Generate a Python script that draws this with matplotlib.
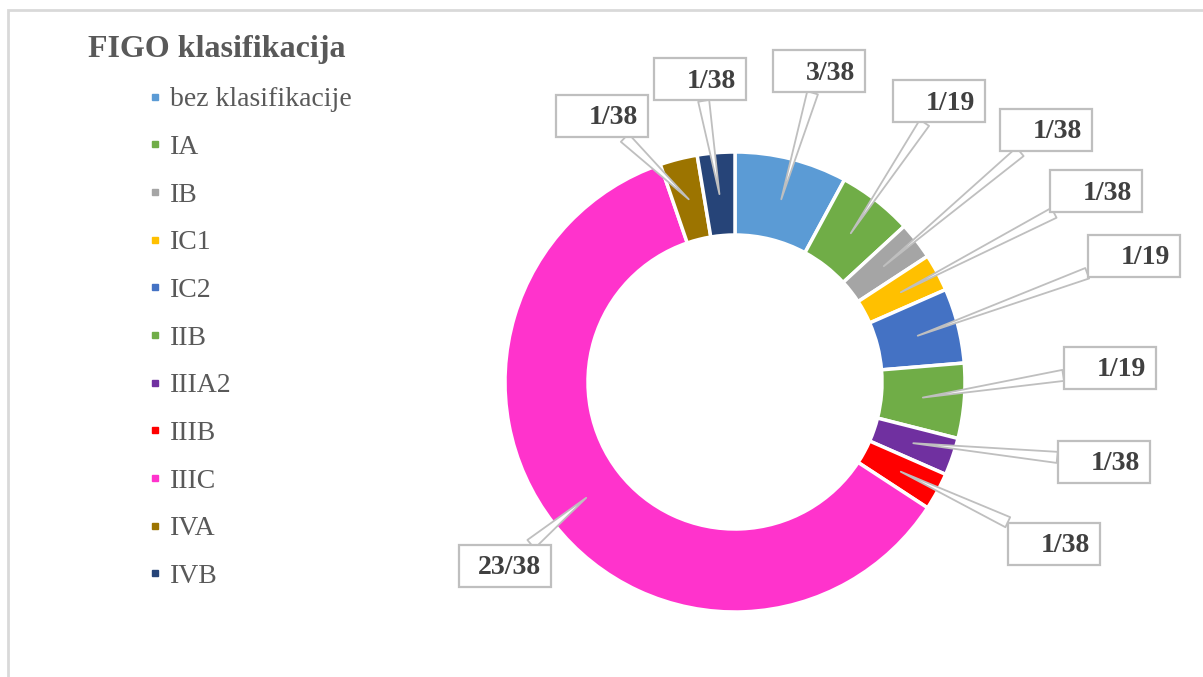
import matplotlib.pyplot as plt
from matplotlib.patches import Rectangle
from matplotlib.lines import Line2D
from fractions import Fraction
import numpy as np

# data
categories = ['bez klasifikacije', 'IA', 'IB', 'IC1', 'IC2', 'IIB',
              'IIIA2', 'IIIB', 'IIIC', 'IVA', 'IVB']
counts = [3, 2, 1, 1, 2, 2, 1, 1, 23, 1, 1]
total = sum(counts)
colors = ['#5B9BD5', '#70AD47', '#A5A5A5', '#FFC000', '#4472C4', '#70AD47',
          '#7030A0', '#FF0000', '#FF33CC', '#9C7400', '#264478']

# layout (pixel coords, origin top-left): label box centres
box_x = [819, 939, 1046, 1096, 1134, 1110, 1104, 1054, 505, 602, 700]
box_y = [71, 101, 130, 191, 256, 368, 462, 544, 566, 116, 79]

W, H = 1203, 677
plt.rcParams['font.family'] = ['Liberation Serif', 'DejaVu Serif']

fig = plt.figure(figsize=(W / 100, H / 100), dpi=100)
ax = fig.add_axes([0, 0, 1, 1])


def py(y):
    return H - y


cx, cy = 735, py(382)
R, ring = 230, 83

wedges, _ = ax.pie(counts, colors=colors, startangle=90, counterclock=False,
                   radius=R, center=(cx, cy),
                   wedgeprops=dict(width=ring, edgecolor='white', linewidth=2.5))
ax.set_xlim(0, W)
ax.set_ylim(0, H)
ax.axis('off')

# callout labels
rm = R - ring / 2
bw, bh = 92, 42
for w, c, bx, by in zip(wedges, counts, box_x, box_y):
    mid = np.deg2rad((w.theta1 + w.theta2) / 2)
    target = (cx + rm * np.cos(mid), cy + rm * np.sin(mid))
    rect = Rectangle((bx - bw / 2, py(by) - bh / 2), bw, bh, fc='white',
                     ec='#BFBFBF', lw=1.6, zorder=4)
    ax.add_patch(rect)
    ax.annotate('', xy=target, xytext=(bx, py(by)), zorder=3,
                arrowprops=dict(arrowstyle='wedge,tail_width=0.4,shrink_factor=0.5',
                                mutation_scale=20, fc='white', ec='#BFBFBF', lw=1.3,
                                patchA=rect, shrinkA=0, shrinkB=0))
    frac = Fraction(c, total)
    ax.text(bx + bw / 2 - 10, py(by + 2), f'{frac.numerator}/{frac.denominator}',
            ha='right', va='center', fontsize=20, fontweight='bold',
            color='#404040', zorder=5)

# legend
handles = [Line2D([], [], marker='s', ls='', color=c, markersize=5) for c in colors]
ax.legend(handles, categories, loc='upper left', bbox_to_anchor=(148, py(87)),
          bbox_transform=ax.transData, frameon=False, borderpad=0, borderaxespad=0,
          handlelength=0.5, handletextpad=0.3, labelspacing=0.8,
          prop={'size': 20}, labelcolor='#595959')
ax.text(88, py(50), 'FIGO klasifikacija', fontsize=23, fontweight='bold',
        color='#595959', va='center')

# outer frame
ax.add_patch(Rectangle((8, -10), W, py(10) + 10, fill=False, ec='#D9D9D9',
                       lw=2, clip_on=False))

fig.savefig('out.png', dpi=100)
